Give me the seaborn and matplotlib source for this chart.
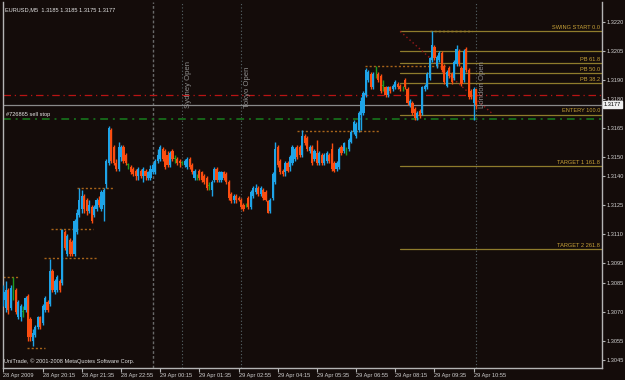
import matplotlib
matplotlib.use("Agg")
import matplotlib.pyplot as plt
import matplotlib.transforms as mtransforms
import seaborn as sns
import numpy as np

# ---------------- data (EURUSD M5) ----------------
opens = [1.3076,1.3072,1.3081,1.3072,1.3077,1.3081,1.3067,1.3067,1.3070,1.3071,
         1.3078,1.3066,1.3055,1.3058,1.3062,1.3067,1.3064,1.3071,1.3075,1.3074,
         1.3091,1.3080,1.3081,1.3086,1.3085,1.3111,1.3100,1.3107,1.3106,1.3100,
         1.3111,1.3120,1.3123,1.3130,1.3128,1.3122,1.3124,1.3120,1.3123,1.3128,
         1.3123,1.3125,1.3136,1.3147,1.3164,1.3155,1.3147,1.3144,1.3150,1.3155,
         1.3151,1.3146,1.3145,1.3144,1.3143,1.3140,1.3143,1.3140,1.3143,1.3139,
         1.3139,1.3142,1.3142,1.3148,1.3149,1.3154,1.3153,1.3151,1.3146,1.3153,
         1.3149,1.3149,1.3148,1.3147,1.3146,1.3145,1.3149,1.3146,1.3139,1.3140,
         1.3143,1.3142,1.3140,1.3139,1.3135,1.3133,1.3138,1.3144,1.3138,1.3138,
         1.3142,1.3141,1.3137,1.3131,1.3128,1.3130,1.3129,1.3128,1.3125,1.3125,
         1.3129,1.3124,1.3130,1.3132,1.3134,1.3131,1.3133,1.3132,1.3127,1.3122,
         1.3129,1.3137,1.3155,1.3148,1.3143,1.3142,1.3147,1.3145,1.3147,1.3149,
         1.3155,1.3155,1.3151,1.3161,1.3160,1.3153,1.3155,1.3149,1.3152,1.3147,
         1.3151,1.3147,1.3148,1.3151,1.3154,1.3147,1.3144,1.3145,1.3155,1.3153,
         1.3154,1.3154,1.3158,1.3163,1.3161,1.3164,1.3172,1.3173,1.3182,1.3190,
         1.3193,1.3186,1.3196,1.3193,1.3192,1.3187,1.3186,1.3182,1.3186,1.3185,
         1.3186,1.3188,1.3187,1.3186,1.3190,1.3185,1.3177,1.3178,1.3175,1.3170,
         1.3174,1.3173,1.3185,1.3186,1.3191,1.3200,1.3207,1.3197,1.3200,1.3204,
         1.3197,1.3187,1.3196,1.3193,1.3191,1.3198,1.3205,1.3196,1.3190,1.3206,
         1.3195,1.3184,1.3178,1.3185]
highs = [1.3084,1.3086,1.3082,1.3084,1.3088,1.3082,1.3076,1.3074,1.3073,1.3078,
         1.3079,1.3067,1.3061,1.3063,1.3068,1.3068,1.3074,1.3078,1.3076,1.3097,
         1.3092,1.3087,1.3089,1.3087,1.3113,1.3112,1.3110,1.3108,1.3107,1.3118,
         1.3123,1.3134,1.3133,1.3131,1.3129,1.3128,1.3125,1.3125,1.3129,1.3130,
         1.3133,1.3134,1.3149,1.3166,1.3165,1.3156,1.3149,1.3158,1.3156,1.3156,
         1.3152,1.3147,1.3146,1.3145,1.3144,1.3145,1.3144,1.3145,1.3144,1.3143,
         1.3146,1.3147,1.3149,1.3154,1.3156,1.3155,1.3154,1.3153,1.3153,1.3154,
         1.3151,1.3150,1.3149,1.3148,1.3149,1.3150,1.3150,1.3147,1.3144,1.3141,
         1.3144,1.3143,1.3141,1.3140,1.3137,1.3138,1.3145,1.3145,1.3143,1.3143,
         1.3143,1.3142,1.3138,1.3132,1.3131,1.3131,1.3130,1.3129,1.3126,1.3126,
         1.3130,1.3133,1.3135,1.3136,1.3135,1.3135,1.3134,1.3133,1.3128,1.3129,
         1.3142,1.3158,1.3156,1.3149,1.3144,1.3148,1.3148,1.3151,1.3156,1.3155,
         1.3156,1.3156,1.3164,1.3162,1.3161,1.3156,1.3156,1.3154,1.3159,1.3153,
         1.3152,1.3152,1.3153,1.3152,1.3157,1.3148,1.3148,1.3155,1.3156,1.3158,
         1.3155,1.3160,1.3164,1.3169,1.3168,1.3174,1.3181,1.3184,1.3196,1.3195,
         1.3194,1.3194,1.3197,1.3194,1.3193,1.3190,1.3187,1.3187,1.3187,1.3188,
         1.3190,1.3189,1.3188,1.3187,1.3191,1.3186,1.3180,1.3179,1.3176,1.3174,
         1.3175,1.3187,1.3188,1.3194,1.3202,1.3215,1.3208,1.3203,1.3205,1.3205,
         1.3198,1.3195,1.3197,1.3194,1.3200,1.3208,1.3206,1.3197,1.3206,1.3207,
         1.3196,1.3185,1.3186,1.3185]
lows = [1.3073,1.3070,1.3069,1.3071,1.3076,1.3069,1.3066,1.3065,1.3067,1.3070,
        1.3055,1.3055,1.3052,1.3057,1.3061,1.3061,1.3063,1.3070,1.3070,1.3073,
        1.3080,1.3079,1.3080,1.3080,1.3084,1.3102,1.3099,1.3099,1.3099,1.3099,
        1.3110,1.3119,1.3121,1.3121,1.3120,1.3121,1.3116,1.3119,1.3122,1.3124,
        1.3122,1.3117,1.3134,1.3146,1.3147,1.3146,1.3143,1.3143,1.3148,1.3147,
        1.3146,1.3144,1.3141,1.3140,1.3138,1.3138,1.3139,1.3137,1.3138,1.3138,
        1.3138,1.3141,1.3141,1.3147,1.3148,1.3148,1.3144,1.3145,1.3145,1.3148,
        1.3147,1.3146,1.3145,1.3146,1.3145,1.3144,1.3144,1.3141,1.3138,1.3138,
        1.3138,1.3137,1.3136,1.3133,1.3133,1.3130,1.3137,1.3137,1.3137,1.3137,
        1.3138,1.3136,1.3128,1.3126,1.3126,1.3126,1.3127,1.3123,1.3122,1.3124,
        1.3123,1.3123,1.3129,1.3131,1.3130,1.3130,1.3128,1.3127,1.3121,1.3121,
        1.3128,1.3136,1.3145,1.3141,1.3140,1.3140,1.3142,1.3143,1.3146,1.3148,
        1.3149,1.3150,1.3150,1.3156,1.3153,1.3152,1.3146,1.3148,1.3146,1.3146,
        1.3146,1.3146,1.3147,1.3147,1.3143,1.3142,1.3143,1.3144,1.3151,1.3152,
        1.3151,1.3153,1.3157,1.3162,1.3160,1.3163,1.3164,1.3172,1.3181,1.3189,
        1.3185,1.3185,1.3191,1.3189,1.3183,1.3184,1.3181,1.3181,1.3183,1.3184,
        1.3185,1.3185,1.3184,1.3184,1.3185,1.3177,1.3176,1.3172,1.3169,1.3169,
        1.3170,1.3172,1.3184,1.3185,1.3190,1.3199,1.3200,1.3196,1.3199,1.3194,
        1.3188,1.3186,1.3191,1.3188,1.3190,1.3197,1.3197,1.3187,1.3189,1.3194,
        1.3180,1.3180,1.3169,1.3175]
closes = [1.3080,1.3081,1.3071,1.3082,1.3077,1.3070,1.3075,1.3073,1.3070,1.3077,
          1.3057,1.3057,1.3059,1.3062,1.3067,1.3062,1.3073,1.3077,1.3071,1.3091,
          1.3081,1.3086,1.3088,1.3081,1.3112,1.3103,1.3109,1.3100,1.3100,1.3117,
          1.3121,1.3128,1.3130,1.3123,1.3122,1.3125,1.3117,1.3124,1.3128,1.3125,
          1.3132,1.3133,1.3148,1.3165,1.3148,1.3147,1.3144,1.3155,1.3155,1.3148,
          1.3147,1.3146,1.3142,1.3141,1.3140,1.3144,1.3140,1.3144,1.3140,1.3142,
          1.3144,1.3146,1.3148,1.3151,1.3155,1.3149,1.3145,1.3146,1.3152,1.3149,
          1.3149,1.3147,1.3147,1.3147,1.3148,1.3149,1.3145,1.3142,1.3143,1.3140,
          1.3139,1.3138,1.3137,1.3134,1.3135,1.3137,1.3144,1.3138,1.3142,1.3142,
          1.3139,1.3137,1.3129,1.3127,1.3130,1.3128,1.3128,1.3124,1.3123,1.3125,
          1.3124,1.3132,1.3134,1.3134,1.3131,1.3134,1.3129,1.3128,1.3121,1.3128,
          1.3141,1.3154,1.3146,1.3142,1.3141,1.3147,1.3143,1.3150,1.3155,1.3154,
          1.3150,1.3151,1.3161,1.3157,1.3154,1.3155,1.3147,1.3153,1.3147,1.3152,
          1.3147,1.3151,1.3152,1.3148,1.3144,1.3143,1.3147,1.3154,1.3152,1.3157,
          1.3154,1.3159,1.3163,1.3168,1.3167,1.3173,1.3179,1.3183,1.3195,1.3194,
          1.3186,1.3193,1.3196,1.3190,1.3184,1.3187,1.3182,1.3186,1.3184,1.3187,
          1.3189,1.3186,1.3185,1.3186,1.3186,1.3178,1.3179,1.3173,1.3170,1.3173,
          1.3171,1.3186,1.3187,1.3193,1.3201,1.3208,1.3201,1.3202,1.3204,1.3195,
          1.3189,1.3194,1.3192,1.3189,1.3199,1.3206,1.3198,1.3188,1.3205,1.3195,
          1.3181,1.3181,1.3185,1.3177]

time_labels = ["28 Apr 2009", "28 Apr 20:15", "28 Apr 21:35", "28 Apr 22:55",
               "29 Apr 00:15", "29 Apr 01:35", "29 Apr 02:55", "29 Apr 04:15",
               "29 Apr 05:35", "29 Apr 06:55", "29 Apr 08:15", "29 Apr 09:35",
               "29 Apr 10:55"]
time_label_bars = [0, 16, 32, 48, 64, 80, 96, 112, 128, 144, 160, 176, 192]
price_ticks = [1.3220, 1.3205, 1.3190, 1.3180, 1.3165, 1.3150, 1.3140,
               1.3125, 1.3110, 1.3095, 1.3085, 1.3070, 1.3055, 1.3045]

session_bars = [73, 97, 193]
session_names = ["Sydney Open", "Tokyo Open", "London Open"]
day_separator_bar = 61

fib_prices = [1.3215, 1.32049, 1.31986, 1.31935, 1.31884, 1.3172, 1.31454, 1.31024]
fib_labels = ["SWING START 0.0", "", "PB 61.8", "PB 50.0", "PB 38.2",
              "ENTERY 100.0", "TARGET 1 161.8", "TARGET 2 261.8"]
fib_start_bar = 162
fib_trend_bars = [162, 200]
fib_trend_prices = [1.3215, 1.3172]

sr_prices = [1.3088, 1.3098, 1.3113, 1.3134, 1.31635, 1.3197, 1.3215, 1.3051]
sr_start = [0, 16.5, 19.4, 30, 119.8, 147.6, 174, 9.6]
sr_end = [6, 38, 36.5, 44.7, 153.3, 180.3, 191.3, 17]

sell_stop_price = 1.31695
red_level_price = 1.31821
bid_price = 1.3177

# ---------------- style ----------------
BG = "#140c0a"
UP = "#1ea4e8"
DOWN = "#fb4d10"
DOJI = "#1f9a1f"
sns.set_theme(style="dark", rc={"axes.facecolor": BG, "figure.facecolor": BG})
plt.rcParams["font.family"] = ["Liberation Sans", "DejaVu Sans"]
FS = 4.1

fig = plt.figure(figsize=(6.25, 3.8), dpi=100)
ax = fig.add_axes([3/625, 12/380, 599/625, 366/380])
ax.set_facecolor(BG)

n = len(closes)
xs = np.arange(n)
o = np.array(opens); c = np.array(closes); h = np.array(highs); l = np.array(lows)
cols = np.where(c > o, UP, np.where(c < o, DOWN, DOJI))

ax.vlines(xs, l, h, colors=cols, linewidth=1.0, zorder=3)
body_lo = np.minimum(o, c)
body_h = np.maximum(np.abs(c - o), 0.00003)
ax.bar(xs, body_h, bottom=body_lo, width=0.88, color=cols, linewidth=0, zorder=4)

# horizontal levels
ax.axhline(red_level_price, color="#b81414", lw=0.9, ls=(0, (6, 3, 1, 3)), zorder=2)
ax.axhline(bid_price, color="#8a8a8a", lw=0.9, zorder=2)
ax.axhline(sell_stop_price, color="#17661a", lw=1.4, ls=(0, (4, 2.5, 1, 2.5)), zorder=2)
ax.text(1.0, sell_stop_price + 0.00012, "#726865 sell stop", color="#e6e6e6",
        fontsize=FS, ha="left", va="bottom", zorder=6)

# S/R dotted markers
for p, s, e in zip(sr_prices, sr_start, sr_end):
    colr = "#e8a020" if p == 1.3215 else "#a8641a"
    ax.plot([s, e], [p, p], color=colr, lw=1.0, ls=(0, (1.5, 1.5)), zorder=2)

# vertical session lines
ax.axvline(day_separator_bar, color="#6a6a6a", lw=1.0, ls=(0, (2, 1.5)), zorder=1)
for b, name in zip(session_bars, session_names):
    ax.axvline(b, color="#566468", lw=0.8, ls=(0, (1, 2)), zorder=1)
    ax.text(b + 1.2, 1.31755, name, rotation=90, color="#8c8c8c", fontsize=5.6,
            ha="left", va="bottom", zorder=6)

# fibonacci object
xmax = 244.4
trans = mtransforms.blended_transform_factory(ax.transAxes, ax.transData)
for p, lab in zip(fib_prices, fib_labels):
    ax.plot([fib_start_bar, xmax], [p, p], color="#8f7c2c", lw=0.9, zorder=2)
    if lab:
        ax.text(0.997, p + 0.00006, lab, transform=trans, color="#c9a338",
                fontsize=FS, ha="right", va="bottom", zorder=6)
ax.plot(fib_trend_bars, fib_trend_prices, color="#9a1a1a", lw=1.0, ls=(0, (1, 2)), zorder=2)

ax.set_xlim(-0.2, xmax)
ax.set_ylim(1.304086, 1.32302)

# axes styling
ax.spines["top"].set_visible(False)
for side in ["left", "right", "bottom"]:
    ax.spines[side].set_visible(True)
    ax.spines[side].set_color("#b4b4b4")
    ax.spines[side].set_linewidth(1.0)
ax.grid(False)

ax.yaxis.tick_right()
ax.set_yticks(price_ticks)
ax.set_yticklabels([f"{t:.4f}" for t in price_ticks])
ax.tick_params(axis="y", colors="#b4b4b4", labelcolor="#d2d2d2", labelsize=FS,
               length=2, width=0.8, pad=1.2, direction="out", right=True, left=False)
ax.set_xticks(time_label_bars)
ax.set_xticklabels(time_labels, ha="left")
ax.tick_params(axis="x", colors="#b4b4b4", labelcolor="#d2d2d2", labelsize=FS,
               length=3, width=0.8, pad=0.8, direction="out", bottom=True)

# current bid box
ax.text(1.003, bid_price, "1.3177", transform=trans, fontsize=FS, color="#000000",
        ha="left", va="center", zorder=7,
        bbox=dict(boxstyle="square,pad=0.2", fc="#f0f0f0", ec="#f0f0f0"))

# header and footer
ax.text(0.004, 0.985, "EURUSD,M5  1.3185 1.3185 1.3175 1.3177", transform=ax.transAxes,
        color="#e6e6e6", fontsize=FS, ha="left", va="top", zorder=7)
ax.text(0.002, 0.012, "UniTrade, \u00a9 2001-2008 MetaQuotes Software Corp.", transform=ax.transAxes,
        color="#e0e0e0", fontsize=FS, ha="left", va="bottom", zorder=7)

fig.savefig("out.png", dpi=100, facecolor=BG)
